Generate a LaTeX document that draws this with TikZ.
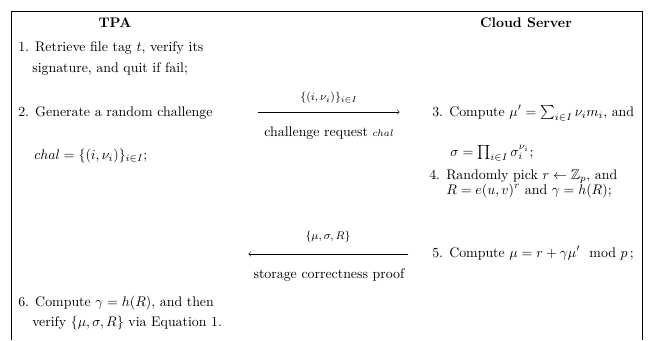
\documentclass[tikz,border=0pt]{standalone}
\usepackage{amsmath,amssymb}
\usepackage{xcolor}
\usetikzlibrary{arrows, positioning}

\begin{document}
\begin{tikzpicture}[x=0.72pt, y=-0.72pt, >=to, thin]
    \tikzset{
        party/.style={font=\bfseries, anchor=base, inner sep=0pt},
        item/.style={anchor=base west, inner sep=0pt},
        line/.style={draw, ->, shorten >=1pt},
        msg/.style={font=\footnotesize, inner sep=0pt}
    }
    \useasboundingbox (0,0) rectangle (649,340);
    \draw (11,340) -- (11,11) -- (642,11) -- (642,340);

    % the two parties
    \node (TPA) [party] at (115,27) {TPA};
    \node (CS) [party] at (526,27) {Cloud Server};

    % TPA side
    \node (S1a) [item] at (18,51) {1. Retrieve file tag $t$, verify its};
    \node (S1b) [item] at (32,72) {signature, and quit if fail;};
    \node (S2a) [item] at (18,116) {2. Generate a random challenge};
    \node (S2b) [item] at (34,159) {$chal = \{(i,\nu_i)\}_{i\in I}$;};
    \node (S6a) [item] at (18,306) {6. Compute $\gamma = h(R)$, and then};
    \node (S6b) [item] at (32,326) {verify $\{\mu,\sigma,R\}$ via Equation 1.};

    % server side
    \node (S3a) [item] at (432,116) {3. Compute $\mu' = \sum_{i\in I}\nu_i m_i$, and};
    \node (S3b) [item] at (450,156) {$\sigma = \prod_{i\in I}\sigma_i^{\nu_i}$;};
    \node (S4a) [item] at (429,179) {4. Randomly pick $r \leftarrow \mathbb{Z}_p$, and};
    \node (S4b) [item] at (446,194) {$R = e(u,v)^r$ and $\gamma = h(R)$;};
    \node (S5) [item] at (432,257) {5. Compute $\mu = r + \gamma\mu' \mod p$\,;};

    % messages
    \coordinate (C1s) at (258,112);
    \coordinate (C1e) at (401,112);
    \coordinate (P1s) at (408,254);
    \coordinate (P1e) at (247,254);
    \node (C1up) [msg] at (329,98) {$\{(i,\nu_i)\}_{i\in I}$};
    \node (C1dn) [msg, font=\normalsize] at (329,133) {challenge request {\scriptsize$chal$}};
    \node (P1up) [msg] at (328,237) {$\{\mu,\sigma,R\}$};
    \node (P1dn) [msg, font=\normalsize] at (329,275) {storage correctness proof};
    \path [line] (C1s) -- (C1e);
    \path [line] (P1s) -- (P1e);

\end{tikzpicture}
\end{document}
